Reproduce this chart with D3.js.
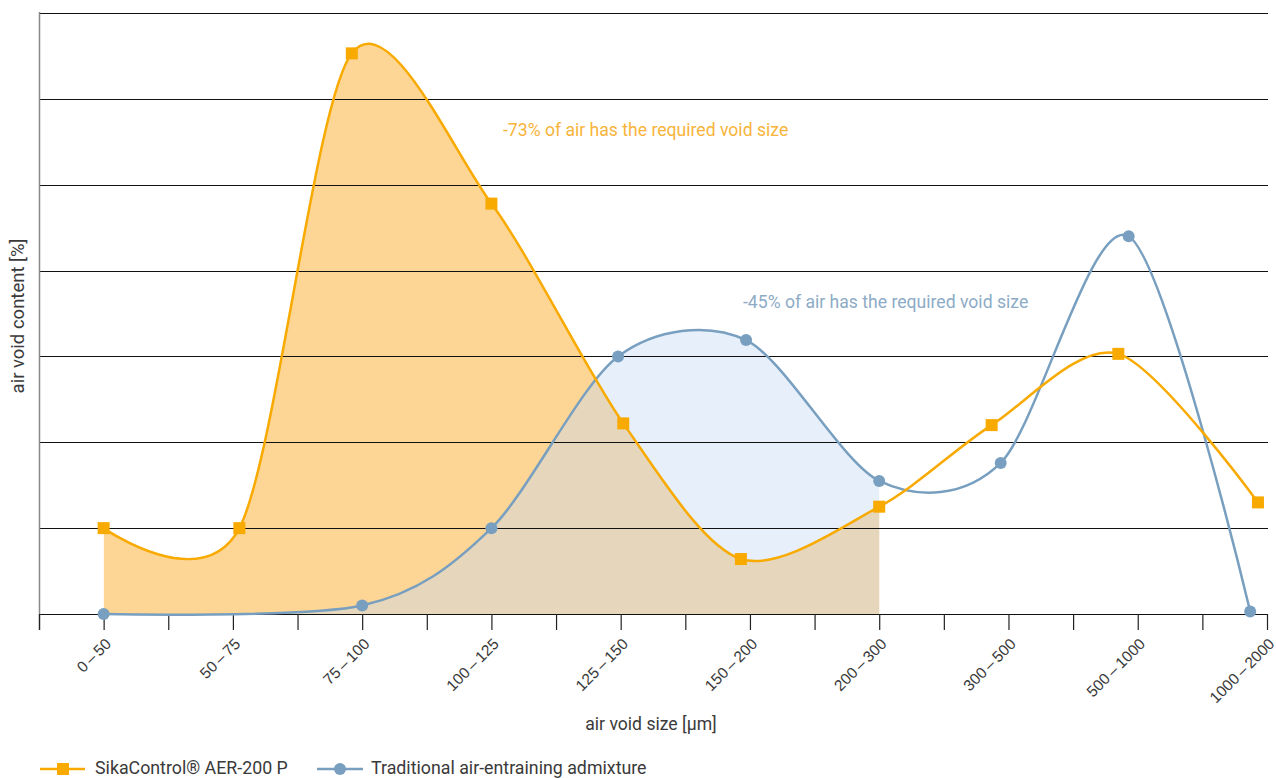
<!DOCTYPE html>
<html>
<head>
<meta charset="utf-8">
<script src="https://cdn.jsdelivr.net/npm/d3@7"></script>
<style>
  html, body { margin: 0; padding: 0; background: #fff; }
  svg { display: block; font-family: Roboto, "Open Sans", sans-serif; }
</style>
</head>
<body>
<svg id="chart" width="1276" height="778"></svg>
<script>
// ---- data ----
const categories = ["0\u2009–\u200950", "50\u2009–\u200975", "75\u2009–\u2009100", "100\u2009–\u2009125", "125\u2009–\u2009150",
  "150\u2009–\u2009200", "200\u2009–\u2009300", "300\u2009–\u2009500", "500\u2009–\u20091000", "1000\u2009–\u20092000"];
// positions of the points along the category axis (category index units)
const sikaPos = [0, 1.05, 1.92, 3.0, 4.02, 4.93, 6.0, 6.87, 7.85, 8.93];
const sikaValues = [1.0, 1.0, 6.53, 4.78, 2.22, 0.64, 1.25, 2.2, 3.03, 1.3];
const tradPos = [0, 2.0, 3.0, 3.98, 4.97, 6.0, 6.94, 7.93, 8.87];
const tradValues = [0, 0.1, 1.0, 3.0, 3.19, 1.55, 1.76, 4.4, 0.03];
const gridValues = [0, 1, 2, 3, 4, 5, 6, 7];
const fillRange = [0, 6]; // shaded region: 0–50 .. 200–300
const seriesNames = ["SikaControl® AER-200 P", "Traditional air-entraining admixture"];
const notes = ["-73% of air has the required void size", "-45% of air has the required void size"];

(function () {
const svg = d3.select("#chart");
const mLeft = 39, mRight = 1267, mTop = 13, mBottom = 614;
const x = d3.scaleLinear().domain([-0.5, categories.length - 1]).range([mLeft, mRight]);
const y = d3.scaleLinear().domain([0, 7]).range([mBottom, mTop]);

const ORANGE = "#f8aa00", ORANGE_FILL = "#fdd594", ORANGE_TEXT = "#f8b43a";
const BLUE = "#789fbf", BLUE_FILL = "#c6dbf3", BLUE_TEXT = "#8dabc6";
const TEXT = "#3a3a3a";

const sika = sikaPos.map((p, i) => ({ p, v: sikaValues[i] }));
const trad = tradPos.map((p, i) => ({ p, v: tradValues[i] }));

const curve = d3.curveCardinal.tension(0.12);
const line = d3.line().x(d => x(d.p)).y(d => y(d.v)).curve(curve);
const area = d3.area().x(d => x(d.p)).y0(y(0)).y1(d => y(d.v)).curve(curve);

svg.append("clipPath").attr("id", "fillClip")
  .append("rect")
  .attr("x", x(fillRange[0])).attr("y", 0)
  .attr("width", x(fillRange[1]) - x(fillRange[0]))
  .attr("height", y(0));

// fills
svg.append("path").datum(sika).attr("d", area)
  .attr("fill", ORANGE_FILL).attr("clip-path", "url(#fillClip)");
svg.append("path").datum(trad).attr("d", area)
  .attr("fill", BLUE_FILL).attr("fill-opacity", 0.42).attr("clip-path", "url(#fillClip)");

// gridlines
svg.append("g").selectAll("line").data(gridValues).join("line")
  .attr("x1", mLeft).attr("x2", mRight + 1)
  .attr("y1", d => Math.round(y(d)) + 0.5).attr("y2", d => Math.round(y(d)) + 0.5)
  .attr("stroke", "#111").attr("stroke-width", 1.2);

// y axis line
svg.append("line").attr("x1", mLeft + 0.5).attr("x2", mLeft + 0.5)
  .attr("y1", mTop - 1).attr("y2", mBottom + 16)
  .attr("stroke", "#888").attr("stroke-width", 1.5);

// x axis ticks (half-category steps) and labels
const tickVals = d3.range(-0.5, categories.length - 0.5 + 0.01, 0.5);
const xAxis = d3.axisBottom(x).tickValues(tickVals).tickSize(16)
  .tickFormat(d => Number.isInteger(d) ? categories[d] : "");
const gx = svg.append("g").attr("transform", `translate(0,${mBottom})`).call(xAxis);
gx.select(".domain").remove();
gx.selectAll(".tick line").attr("stroke", "#222").attr("stroke-width", 1.2);
gx.selectAll(".tick text")
  .attr("font-size", 15.5).attr("fill", TEXT)
  .attr("text-anchor", "end")
  .attr("x", 0).attr("y", 0).attr("dy", "0.35em")
  .attr("transform", "translate(4,27) rotate(-45)");

// lines
svg.append("path").datum(trad).attr("d", line)
  .attr("fill", "none").attr("stroke", BLUE).attr("stroke-width", 2.5);
svg.append("path").datum(sika).attr("d", line)
  .attr("fill", "none").attr("stroke", ORANGE).attr("stroke-width", 2.5);

// markers
svg.append("g").selectAll("circle").data(trad).join("circle")
  .attr("cx", d => x(d.p)).attr("cy", d => y(d.v)).attr("r", 6).attr("fill", BLUE);
svg.append("g").selectAll("rect").data(sika).join("rect")
  .attr("x", d => x(d.p) - 6).attr("y", d => y(d.v) - 6)
  .attr("width", 12).attr("height", 12).attr("fill", ORANGE);

// annotations
svg.append("text").attr("x", 503).attr("y", 136).attr("font-size", 17.6)
  .attr("fill", ORANGE_TEXT).text(notes[0]);
svg.append("text").attr("x", 743).attr("y", 308).attr("font-size", 17.6)
  .attr("fill", BLUE_TEXT).text(notes[1]);

// axis titles
svg.append("text").attr("x", 651).attr("y", 730).attr("text-anchor", "middle")
  .attr("font-size", 17.6).attr("fill", TEXT).text("air void size [µm]");
svg.append("text").attr("transform", "translate(24,316) rotate(-90)")
  .attr("text-anchor", "middle").attr("font-size", 18.5).attr("fill", TEXT)
  .text("air void content [%]");

// legend
const lg = svg.append("g");
lg.append("line").attr("x1", 40).attr("x2", 85).attr("y1", 769).attr("y2", 769)
  .attr("stroke", ORANGE).attr("stroke-width", 2.5);
lg.append("rect").attr("x", 57).attr("y", 763).attr("width", 12).attr("height", 12).attr("fill", ORANGE);
lg.append("text").attr("x", 95).attr("y", 774).attr("font-size", 17.8).attr("fill", TEXT).text(seriesNames[0]);
lg.append("line").attr("x1", 317).attr("x2", 363).attr("y1", 769).attr("y2", 769)
  .attr("stroke", BLUE).attr("stroke-width", 2.5);
lg.append("circle").attr("cx", 340).attr("cy", 769).attr("r", 6).attr("fill", BLUE);
lg.append("text").attr("x", 371).attr("y", 774).attr("font-size", 17.8).attr("fill", TEXT).text(seriesNames[1]);
})();
</script>
</body>
</html>
